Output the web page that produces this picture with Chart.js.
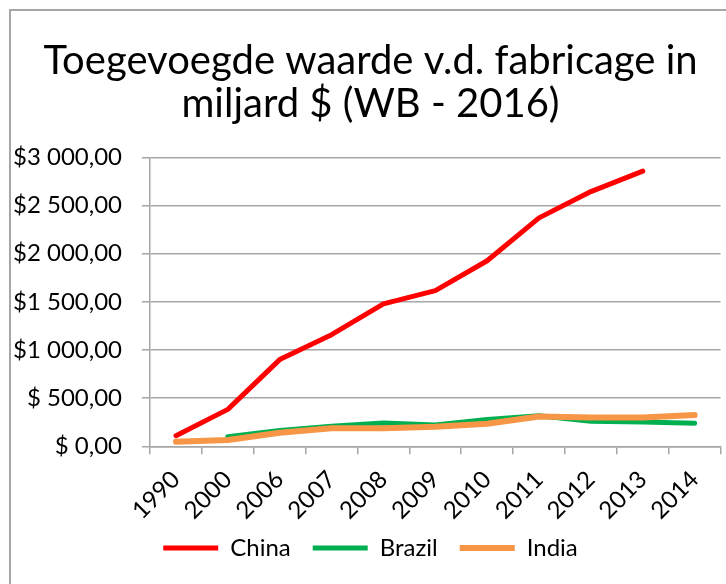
<!DOCTYPE html>
<html>
<head>
<meta charset="utf-8">
<script src="https://cdn.jsdelivr.net/npm/chart.js@4"></script>
<style>
  html, body { margin: 0; padding: 0; background: #fff; }
  #wrap { position: relative; width: 726px; height: 584px; overflow: hidden; }
  #frame { position: absolute; left: 9px; top: 9px; width: 800px; height: 700px;
           border-left: 2px solid #a6a6a6; border-top: 2px solid #a6a6a6; }
  canvas { position: absolute; left: 0; top: 0; }
</style>
</head>
<body>
<div id="wrap">
  <div id="frame"></div>
  <canvas id="chart" width="726" height="584"></canvas>
</div>
<script>
const years = ["1990", "2000", "2006", "2007", "2008", "2009", "2010", "2011", "2012", "2013", "2014"];
const china = [110, 383, 900, 1159, 1479, 1617, 1927, 2372, 2645, 2858, null];
const brazil = [null, 100, 165, 207, 241, 220, 279, 317, 259, 252, 238];
const india = [48, 65, 141, 186, 186, 203, 234, 310, 300, 298, 324];
const titleLines = ["Toegevoegde waarde v.d. fabricage in", "miljard $ (WB - 2016)"];

const font = "Lato";
const squeeze = 22; // px the x-axis box gives up to the legend's top padding

function money(v) {
    let s = Math.abs(v).toFixed(2).replace(".", ",");
    let [whole, dec] = s.split(",");
    whole = whole.replace(/\B(?=(\d{3})+(?!\d))/g, " ");
    return (v >= 1000 ? "$" : "$ ") + whole + "," + dec;
}

const ctx = document.getElementById("chart").getContext("2d");

new Chart(ctx, {
    type: "line",
    data: {
        labels: years,
        datasets: [
            { label: "China", data: china, borderColor: "#ff0000", backgroundColor: "#ff0000",
              borderWidth: 5, order: 1 },
            { label: "Brazil", data: brazil, borderColor: "#00b050", backgroundColor: "#00b050",
              borderWidth: 5, order: 3 },
            { label: "India", data: india, borderColor: "#f79646", backgroundColor: "#f79646",
              borderWidth: 6, order: 2 }
        ]
    },
    options: {
        responsive: false,
        animation: false,
        spanGaps: false,
        elements: {
            point: { radius: 0, hoverRadius: 0 },
            line: { tension: 0, borderCapStyle: "round", borderJoinStyle: "round" }
        },
        layout: { padding: { left: -7, right: -22, top: 39, bottom: 14 } },
        plugins: {
            tooltip: { enabled: false },
            title: {
                display: true,
                text: titleLines,
                color: "#000",
                font: { family: font, size: 40, weight: "normal", lineHeight: 1.08 },
                padding: { top: 0, bottom: 32 }
            },
            legend: {
                position: "bottom",
                labels: {
                    color: "#000",
                    font: { family: font, size: 24 },
                    usePointStyle: true,
                    pointStyle: "line",
                    pointStyleWidth: 55,
                    boxHeight: 5,
                    padding: 22,
                    sort: (a, b) => a.datasetIndex - b.datasetIndex
                }
            }
        },
        scales: {
            x: {
                offset: true,
                grid: { offset: true, drawOnChartArea: false, color: "#a6a6a6", tickLength: 8, lineWidth: 1.5 },
                border: { color: "#a6a6a6", width: 1.5 },
                ticks: { color: "#000", font: { family: font, size: 24 }, minRotation: 45, maxRotation: 45, padding: 11 },
                afterFit: scale => { scale.height -= squeeze; }
            },
            y: {
                min: 0,
                max: 3000,
                grid: { color: "#a6a6a6", tickLength: 8, lineWidth: 1.5 },
                border: { color: "#a6a6a6", width: 1.5 },
                ticks: { stepSize: 500, color: "#000", font: { family: font, size: 24 }, padding: 20,
                         callback: v => money(v) }
            }
        }
    },
    plugins: [{
        id: "labelRoom",
        // give the label clip area back its full height
        afterLayout(chart) { chart.scales.x.bottom += squeeze; }
    }]
});
</script>
</body>
</html>
